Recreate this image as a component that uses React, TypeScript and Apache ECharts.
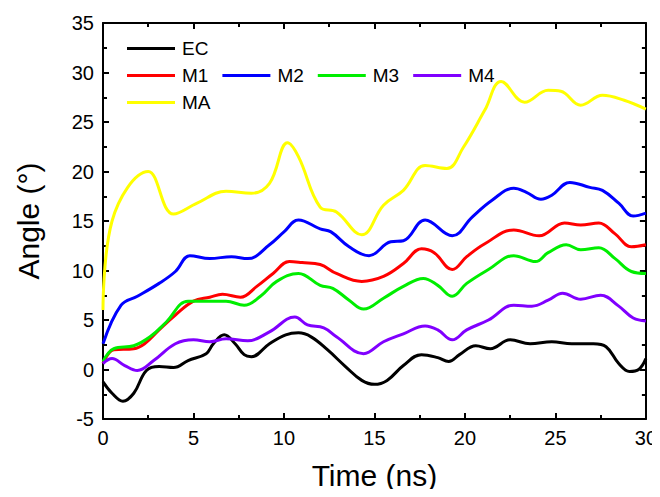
import React, { useEffect, useRef } from "react";
import * as echarts from "echarts";

const ecTime = [0, 0.5, 1.1, 1.7, 2.4, 3.1, 3.9, 4.7, 5.7, 6.1, 6.7, 7.3, 7.8, 8.2, 9.2, 10.1, 10.8, 11.5, 12.4, 13.4, 14.3, 15, 15.7, 16.6, 17.6, 18.5, 19.1, 19.7, 20.6, 21.4, 22.5, 23.6, 24.8, 25.9, 27.1, 27.8, 28.5, 29.1, 29.6, 30];
const ecValues = [-1.25, -2.4, -3.2, -2.4, -0.1, 0.3, 0.2, 0.9, 1.6, 2.6, 3.5, 2.6, 1.5, 1.3, 2.6, 3.5, 3.7, 3.3, 2.0, 0.3, -1.1, -1.5, -1.1, 0.4, 1.5, 1.2, 0.8, 1.5, 2.4, 2.1, 3.0, 2.6, 2.8, 2.6, 2.6, 2.3, 0.6, -0.2, 0, 1.1];

const m1Time = [0, 0.6, 1.7, 2.3, 3.1, 4, 5, 5.9, 6.6, 7.6, 8.5, 9.4, 10.3, 11, 12, 12.9, 14.3, 15.5, 16.6, 17.6, 18.3, 19.3, 20.1, 21.1, 22.7, 24.1, 25.5, 26.4, 27.4, 28.3, 29.2, 30];
const m1Values = [0.6, 2.0, 2.1, 2.6, 4.0, 5.5, 6.9, 7.3, 7.6, 7.3, 8.4, 9.7, 10.9, 10.8, 10.6, 9.7, 8.9, 9.4, 10.7, 12.2, 11.8, 10.1, 11.4, 12.7, 14.1, 13.5, 14.8, 14.6, 14.8, 13.7, 12.4, 12.6];

const m2Time = [0, 1, 1.9, 3.1, 4, 4.8, 5.9, 7.1, 8, 9.2, 10, 10.8, 12, 12.6, 13.6, 14.7, 15.9, 16.6, 17.8, 19.3, 20.4, 21.5, 22.7, 23.4, 24.2, 24.8, 25.8, 26.9, 27.6, 28.5, 29.3, 30];
const m2Values = [2.6, 6.5, 7.4, 8.7, 9.9, 11.5, 11.2, 11.4, 11.2, 12.6, 13.9, 15.1, 14.2, 13.9, 12.4, 11.5, 12.9, 13.0, 15.1, 13.5, 15.4, 17.1, 18.3, 17.9, 17.2, 17.6, 18.9, 18.4, 18.1, 16.8, 15.5, 15.8];

const m3Time = [0, 0.6, 1.7, 2.6, 3.5, 4.7, 5.9, 6.8, 7.8, 8.7, 9.6, 10.8, 12, 12.7, 13.6, 14.4, 15.5, 16.6, 17.7, 18.5, 19.3, 20.1, 21.3, 22.7, 23.9, 24.6, 25.6, 26.4, 27.4, 28.3, 29.2, 30];
const m3Values = [0.8, 2.1, 2.4, 3.3, 4.8, 6.9, 6.9, 6.9, 6.5, 7.4, 8.9, 9.7, 8.5, 8.2, 7.0, 6.1, 7.2, 8.4, 9.2, 8.5, 7.4, 8.7, 10.1, 11.5, 10.9, 11.8, 12.6, 12.1, 12.3, 11.2, 9.9, 9.7];

const m4Time = [0, 0.5, 1.2, 1.9, 2.8, 4, 5, 5.9, 6.8, 8, 9.2, 10.6, 11.3, 12.2, 12.9, 14.4, 15.5, 16.6, 17.8, 18.5, 19.3, 20.1, 21.3, 22.7, 23.7, 24.6, 25.4, 26.4, 27.5, 28.5, 29.3, 30];
const m4Values = [0.6, 1.1, 0.4, -0.1, 0.9, 2.6, 3.0, 2.8, 3.1, 2.9, 3.8, 5.3, 4.5, 4.2, 3.3, 1.6, 2.8, 3.6, 4.4, 4.0, 3.0, 4.0, 5.0, 6.5, 6.4, 7.0, 7.7, 7.1, 7.5, 6.4, 5.2, 4.9];

const maTime = [0, 0.5, 2.5, 3.9, 5.2, 6.8, 8.2, 9.2, 10.2, 10.8, 12, 12.9, 14.3, 15.5, 16.6, 17.8, 19, 19.9, 21.1, 22, 23.3, 24.6, 25.3, 26.4, 27.6, 28.8, 30];
const maValues = [6.0, 15.0, 20.0, 15.7, 16.8, 18.0, 17.8, 18.8, 22.9, 21.5, 16.4, 15.9, 13.6, 16.6, 18.1, 20.6, 20.3, 22.4, 26.2, 29.1, 27.0, 28.2, 28.1, 26.7, 27.7, 27.2, 26.3];

const seriesNames = ["EC", "M1", "M2", "M3", "M4", "MA"];
const seriesColors = ["#000000", "#ff0000", "#0000ff", "#00ee00", "#8000ff", "#ffff00"];
const xTicks = { min: 0, max: 30, interval: 5 };
const yTicks = { min: -5, max: 35, interval: 5 };

const FONT = "Liberation Sans, Arial, sans-serif";

function pair(t: number[], v: number[]) {
  return t.map((x, i) => [x, v[i]]);
}

export default function App() {
  const ref = useRef<HTMLDivElement>(null);
  useEffect(() => {
    if (!ref.current) return;
    const chart = echarts.init(ref.current, null, { renderer: "svg" });
    const datasets = [
      pair(ecTime, ecValues),
      pair(m1Time, m1Values),
      pair(m2Time, m2Values),
      pair(m3Time, m3Values),
      pair(m4Time, m4Values),
      pair(maTime, maValues),
    ];
    const axisLine = { show: true, onZero: false, lineStyle: { color: "#000", width: 2 } };
    const tick = { show: true, inside: true, length: 6, lineStyle: { color: "#000", width: 2 } };
    const minor = { show: true, splitNumber: 2, length: 4, lineStyle: { color: "#000", width: 2 } };
    const legendCommon = {
      itemWidth: 48,
      itemHeight: 3,
      icon: "rect",
      itemGap: 14,
      textStyle: { fontFamily: FONT, fontSize: 19, color: "#000", padding: [0, 0, 0, 2] },
      selectedMode: false,
    };
    chart.setOption({
      animation: false,
      backgroundColor: "#fff",
      color: seriesColors,
      grid: { left: 103, right: 14, top: 23, bottom: 78, containLabel: false },
      legend: [
        { ...legendCommon, data: ["EC"], left: 122, top: 34 },
        { ...legendCommon, data: ["M1", "M2", "M3", "M4"], left: 122, top: 61 },
        { ...legendCommon, data: ["MA"], left: 122, top: 88 },
      ],
      xAxis: [
        {
          type: "value",
          ...xTicks,
          position: "bottom",
          axisLine,
          axisTick: tick,
          minorTick: minor,
          splitLine: { show: false },
          axisLabel: { fontFamily: FONT, fontSize: 20, color: "#000", margin: 9 },
          name: "Time (ns)",
          nameLocation: "middle",
          nameGap: 41,
          nameTextStyle: { fontFamily: FONT, fontSize: 30, color: "#000" },
        },
        {
          type: "value",
          ...xTicks,
          position: "top",
          axisLine,
          axisTick: tick,
          minorTick: minor,
          splitLine: { show: false },
          axisLabel: { show: false },
        },
      ],
      yAxis: [
        {
          type: "value",
          ...yTicks,
          position: "left",
          axisLine,
          axisTick: tick,
          minorTick: minor,
          splitLine: { show: false },
          axisLabel: { fontFamily: FONT, fontSize: 20, color: "#000", margin: 9 },
          name: "Angle (°)",
          nameLocation: "middle",
          nameGap: 60,
          nameTextStyle: { fontFamily: FONT, fontSize: 30, color: "#000" },
        },
        {
          type: "value",
          ...yTicks,
          position: "right",
          axisLine,
          axisTick: tick,
          minorTick: minor,
          splitLine: { show: false },
          axisLabel: { show: false },
        },
      ],
      series: seriesNames.map((name, i) => ({
        name,
        type: "line",
        data: datasets[i],
        smooth: 0.4,
        showSymbol: false,
        symbol: "none",
        lineStyle: { width: 3, color: seriesColors[i] },
        itemStyle: { color: seriesColors[i] },
        z: i === 5 ? 1 : 2,
      })),
    });
    return () => chart.dispose();
  }, []);
  return <div ref={ref} style={{ width: 660, height: 497, margin: -8 }} />;
}
